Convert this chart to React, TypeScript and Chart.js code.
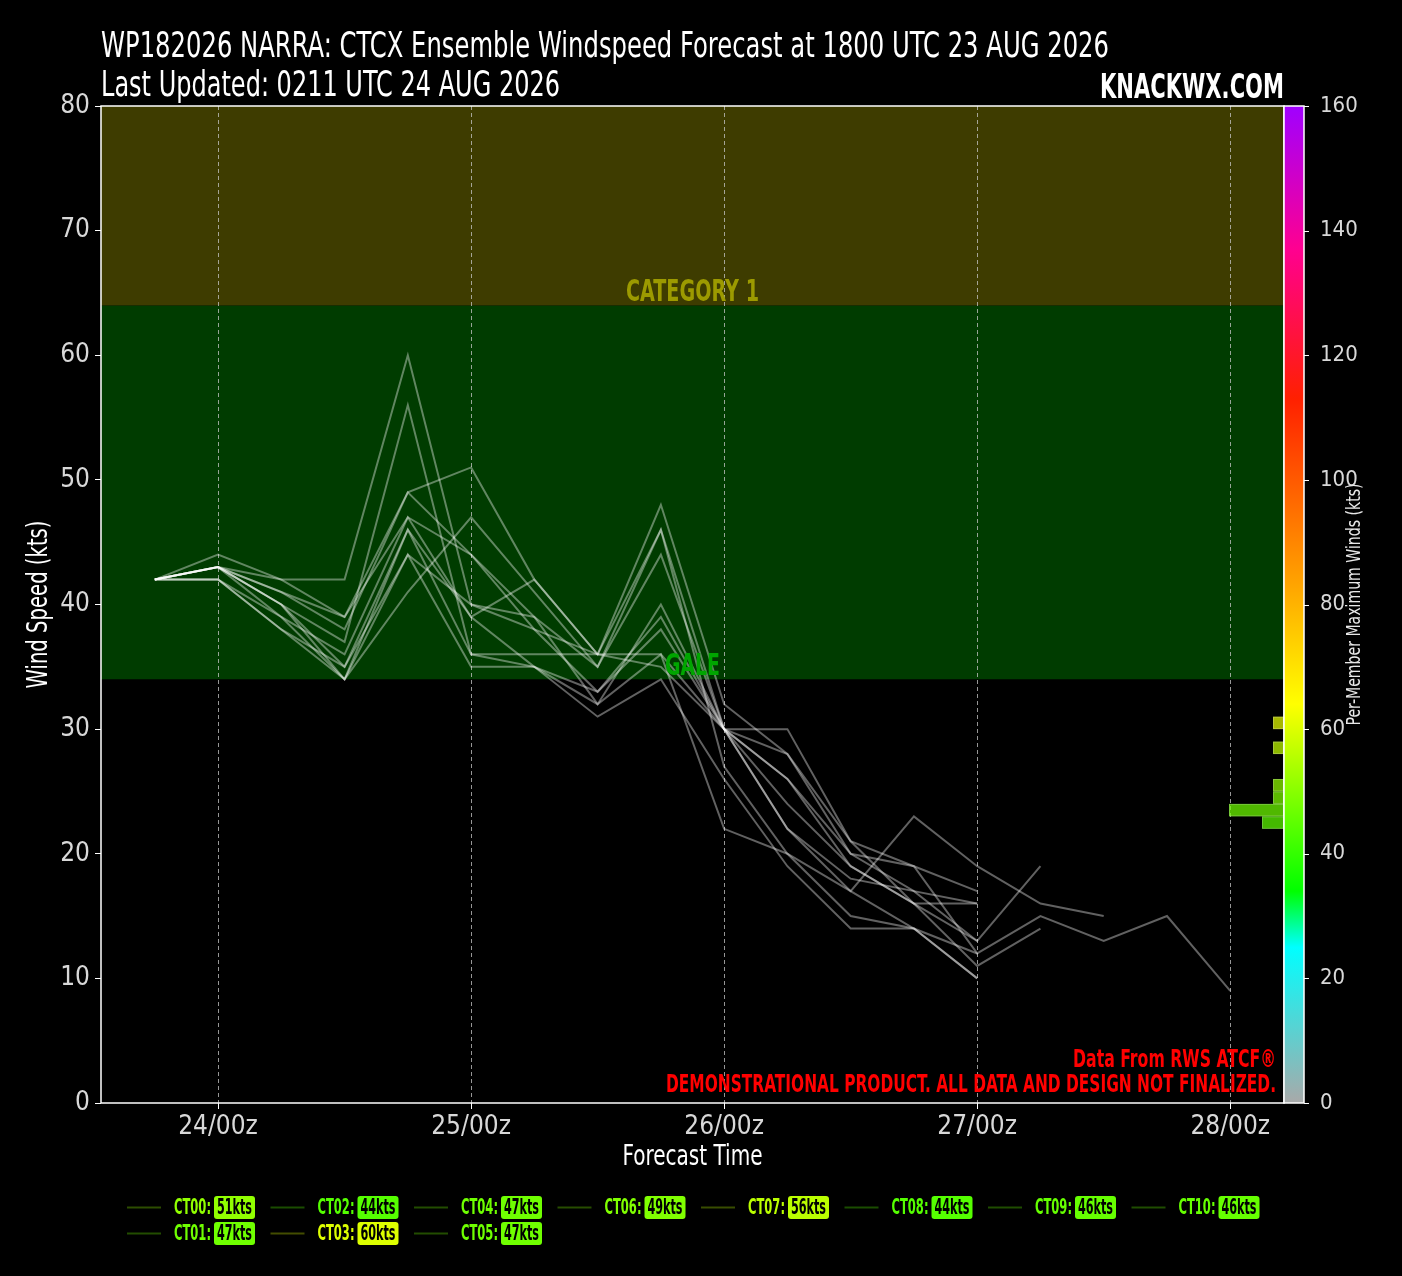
import React, { useEffect, useRef } from 'react';
import { Chart, registerables } from 'chart.js';

Chart.register(...registerables);

// ---------------- data ----------------
const TITLE_LINE_1 = 'WP182026 NARRA: CTCX Ensemble Windspeed Forecast at 1800 UTC 23 AUG 2026';
const TITLE_LINE_2 = 'Last Updated: 0211 UTC 24 AUG 2026';
const BRAND = 'KNACKWX.COM';
const SOURCE_NOTE = 'Data From RWS ATCF®';
const DISCLAIMER = 'DEMONSTRATIONAL PRODUCT. ALL DATA AND DESIGN NOT FINALIZED.';
const Y_TITLE = 'Wind Speed (kts)';
const X_TITLE = 'Forecast Time';
const CB_TITLE = 'Per-Member Maximum Winds (kts)';

// forecast hours relative to 24/00z
const FORECAST_HOURS = [-6, 0, 6, 12, 18, 24, 30, 36, 42, 48, 54, 60, 66, 72, 78, 84, 90, 96];
const X_TICK_HOURS = [0, 24, 48, 72, 96];
const X_TICK_LABELS = ['24/00z', '25/00z', '26/00z', '27/00z', '28/00z'];

const MEMBER_NAMES = ['CT00', 'CT01', 'CT02', 'CT03', 'CT04', 'CT05', 'CT06', 'CT07', 'CT08', 'CT09', 'CT10'];
const CT00 = [42, 43, 41, 38, 49, 51, 42, 36, 48, 32, 28, 21, 19, 17];
const CT01 = [42, 43, 40, 34, 41, 47, 41, 35, 44, 30, 26, 20, 17, 16];
const CT02 = [42, 42, 38, 35, 44, 40, 38, 33, 38, 30, 24, 19, 16, 16];
const CT03 = [42, 43, 42, 42, 60, 40, 39, 32, 40, 30, 22, 17, 14, 12];
const CT04 = [42, 43, 41, 39, 47, 44, 38, 36, 46, 27, 20, 15, 14, 10];
const CT05 = [42, 43, 39, 36, 47, 39, 35, 33, 39, 30, 22, 18, 17, 13, 19];
const CT06 = [42, 44, 42, 39, 49, 44, 39, 35, 46, 30, 26, 19, 16, 11, 14];
const CT07 = [42, 43, 40, 37, 56, 36, 35, 31, 34, 26, 19, 14, 14, 10];
const CT08 = [42, 42, 38, 34, 44, 35, 35, 32, 36, 22, 20, 17, 23, 19, 16, 15];
const CT09 = [42, 43, 40, 35, 46, 39, 42, 36, 36, 30, 28, 20, 19, 12, 15, 13, 15, 9];
const CT10 = [42, 42, 39, 34, 46, 36, 36, 36, 35, 30, 30, 21, 16, 13];
const MEMBER_VALUES = [CT00, CT01, CT02, CT03, CT04, CT05, CT06, CT07, CT08, CT09, CT10];

const BAND_LOWER = [34, 64];
const BAND_UPPER = [64, 80];
const BAND_LABELS = ['GALE', 'CATEGORY 1'];

const Y_MIN = 0;
const Y_MAX = 80;
const CB_MIN = 0;
const CB_MAX = 160;
const HIST_BIN_WIDTH = 2;

// colormap stops (kts)
const CMAP_VALUES = [0, 25, 34, 64, 83, 113, 137, 160];
const CMAP_COLORS = ['#a9a9a9', '#00ffff', '#00ff00', '#ffff00', '#ffa500', '#ff2000', '#ff0090', '#a000ff'];

// ---------------- styles ----------------
const W = 1402;
const H = 1276;
const FONT = '"Liberation Sans Narrow", "DejaVu Sans Condensed", "Roboto Condensed", sans-serif';
const BAND_FILLS = ['#003c00', '#3e3c00'];
const BAND_TEXT = ['#00a600', '#9c9a00'];

function hexToRgb(h: string): number[] {
  const n = parseInt(h.slice(1), 16);
  return [(n >> 16) & 255, (n >> 8) & 255, n & 255];
}
function cmap(v: number): number[] {
  if (v <= CMAP_VALUES[0]) return hexToRgb(CMAP_COLORS[0]);
  for (let i = 1; i < CMAP_VALUES.length; i++) {
    if (v <= CMAP_VALUES[i]) {
      const t = (v - CMAP_VALUES[i - 1]) / (CMAP_VALUES[i] - CMAP_VALUES[i - 1]);
      const a = hexToRgb(CMAP_COLORS[i - 1]);
      const b = hexToRgb(CMAP_COLORS[i]);
      return a.map((c, k) => Math.round(c + (b[k] - c) * t));
    }
  }
  return hexToRgb(CMAP_COLORS[CMAP_COLORS.length - 1]);
}
function rgba(c: number[], a: number) {
  return `rgba(${c[0]},${c[1]},${c[2]},${a})`;
}

function fitText(ctx: CanvasRenderingContext2D, text: string, x: number, y: number, targetW: number, align: CanvasTextAlign, rotate = false) {
  const w = ctx.measureText(text).width;
  const sx = targetW / w;
  ctx.save();
  ctx.translate(x, y);
  if (rotate) ctx.rotate(-Math.PI / 2);
  ctx.scale(sx, 1);
  ctx.textAlign = align;
  ctx.fillText(text, 0, 0);
  ctx.restore();
}

const MEMBER_MAX = MEMBER_VALUES.map((v) => Math.max(...v));

const decor = {
  id: 'decor',
  beforeDraw(chart: any) {
    const ctx: CanvasRenderingContext2D = chart.ctx;
    const { left, right, top, bottom } = chart.chartArea;
    const y = chart.scales.y;
    const x = chart.scales.x;
    ctx.save();
    ctx.fillStyle = '#000';
    ctx.fillRect(0, 0, chart.width, chart.height);
    BAND_LOWER.forEach((lo, i) => {
      const y1 = y.getPixelForValue(BAND_UPPER[i]);
      const y2 = y.getPixelForValue(lo);
      ctx.fillStyle = BAND_FILLS[i];
      ctx.fillRect(left, y1, right - left, y2 - y1);
    });
    ctx.strokeStyle = 'rgba(200,200,200,0.75)';
    ctx.lineWidth = 1;
    ctx.setLineDash([4, 3]);
    X_TICK_HOURS.forEach((h) => {
      const px = Math.round(x.getPixelForValue(h)) + 0.5;
      ctx.beginPath();
      ctx.moveTo(px, top);
      ctx.lineTo(px, bottom);
      ctx.stroke();
    });
    ctx.restore();
  },
  afterDatasetsDraw(chart: any) {
    const ctx: CanvasRenderingContext2D = chart.ctx;
    const { left, right } = chart.chartArea;
    const y = chart.scales.y;
    const cb = chart.scales.cb;
    const cx = (left + right) / 2;
    ctx.save();
    // band labels
    ctx.font = `bold 31px ${FONT}`;
    ctx.textBaseline = 'alphabetic';
    const labelW = [55, 133];
    BAND_LOWER.forEach((lo, i) => {
      ctx.fillStyle = BAND_TEXT[i];
      fitText(ctx, BAND_LABELS[i], cx, y.getPixelForValue(lo) - 4, labelW[i], 'center');
    });
    // histogram of per-member maximum winds, on the colorbar scale
    const bins = new Map<number, number>();
    MEMBER_MAX.forEach((m) => {
      const b = Math.floor(m / HIST_BIN_WIDTH) * HIST_BIN_WIDTH;
      bins.set(b, (bins.get(b) || 0) + 1);
    });
    const unit = 11;
    bins.forEach((count, b) => {
      const yTop = cb.getPixelForValue(b + HIST_BIN_WIDTH);
      const yBot = cb.getPixelForValue(b);
      const wBar = count * unit;
      ctx.fillStyle = rgba(cmap(b + HIST_BIN_WIDTH / 2), 0.72);
      ctx.fillRect(right - wBar, yTop, wBar, yBot - yTop);
      ctx.strokeStyle = 'rgba(255,255,255,0.22)';
      ctx.lineWidth = 1;
      ctx.strokeRect(right - wBar + 0.5, yTop + 0.5, wBar - 1, yBot - yTop - 1);
    });
    ctx.restore();
  },
  afterDraw(chart: any) {
    const ctx: CanvasRenderingContext2D = chart.ctx;
    const { left, right, top, bottom } = chart.chartArea;
    const cb = chart.scales.cb;
    ctx.save();
    // frame
    ctx.strokeStyle = '#ffffff';
    ctx.lineWidth = 1.5;
    ctx.strokeRect(left, top, right - left, bottom - top);

    // colorbar
    const cbL = right;
    const cbR = right + 20;
    const g = ctx.createLinearGradient(0, cb.getPixelForValue(CB_MIN), 0, cb.getPixelForValue(CB_MAX));
    CMAP_VALUES.forEach((v, i) => g.addColorStop((v - CB_MIN) / (CB_MAX - CB_MIN), CMAP_COLORS[i]));
    ctx.fillStyle = g;
    const cbTop = cb.getPixelForValue(CB_MAX);
    const cbBot = cb.getPixelForValue(CB_MIN);
    ctx.fillRect(cbL, cbTop, cbR - cbL, cbBot - cbTop);
    ctx.strokeStyle = '#ffffff';
    ctx.lineWidth = 1.5;
    ctx.strokeRect(cbL, cbTop, cbR - cbL, cbBot - cbTop);
    ctx.lineWidth = 1;
    cb.ticks.forEach((t: any) => {
      const py = Math.round(cb.getPixelForValue(t.value)) + 0.5;
      ctx.beginPath();
      ctx.moveTo(cbR, py);
      ctx.lineTo(cbR + 5, py);
      ctx.stroke();
    });

    // titles
    ctx.fillStyle = '#ffffff';
    ctx.textBaseline = 'alphabetic';
    ctx.font = `35px ${FONT}`;
    fitText(ctx, TITLE_LINE_1, left, 57, 1008, 'left');
    fitText(ctx, TITLE_LINE_2, left, 96, 459, 'left');
    ctx.font = `bold 34px ${FONT}`;
    fitText(ctx, BRAND, right, 98, 184, 'right');

    // axis titles
    ctx.textBaseline = 'middle';
    ctx.font = `28px ${FONT}`;
    fitText(ctx, Y_TITLE, 40, (top + bottom) / 2, 168, 'center', true);
    fitText(ctx, X_TITLE, (left + right) / 2, 1158, 140, 'center');
    ctx.font = `20px ${FONT}`;
    ctx.fillStyle = '#e8e8e8';
    fitText(ctx, CB_TITLE, 1355, (top + bottom) / 2, 242, 'center', true);

    // notes
    ctx.fillStyle = '#ff0000';
    ctx.font = `bold 25px ${FONT}`;
    ctx.textBaseline = 'alphabetic';
    fitText(ctx, SOURCE_NOTE, right - 8, 1067, 203, 'right');
    fitText(ctx, DISCLAIMER, right - 8, 1092, 610, 'right');

    // legend (matplotlib-style column fill, 8 columns)
    const ncol = 8;
    const n = MEMBER_NAMES.length;
    const rows = Math.ceil(n / ncol);
    const extra = n % ncol;
    let idx = 0;
    for (let c = 0; c < ncol && idx < n; c++) {
      const inCol = extra === 0 ? rows : c < extra ? rows : rows - 1;
      for (let r = 0; r < inCol && idx < n; r++, idx++) {
        const x0 = 127 + 143.5 * c;
        const yc = 1207.5 + 26 * r;
        const col = cmap(MEMBER_MAX[idx]);
        ctx.strokeStyle = rgba(col, 0.3);
        ctx.lineWidth = 2;
        ctx.beginPath();
        ctx.moveTo(x0, yc);
        ctx.lineTo(x0 + 34, yc);
        ctx.stroke();
        ctx.textBaseline = 'middle';
        ctx.font = `bold 22px ${FONT}`;
        ctx.fillStyle = rgba(col, 1);
        fitText(ctx, MEMBER_NAMES[idx] + ':', x0 + 47, yc + 1, 37, 'left');
        const bx = x0 + 87;
        const bw = 41;
        const bh = 23;
        ctx.beginPath();
        (ctx as any).roundRect(bx, yc - bh / 2, bw, bh, 3);
        ctx.fill();
        ctx.fillStyle = '#000';
        fitText(ctx, `${MEMBER_MAX[idx]}kts`, bx + bw / 2, yc + 1, 35, 'center');
      }
    }
    ctx.restore();
  },
};

export default function App() {
  const ref = useRef<HTMLCanvasElement>(null);
  useEffect(() => {
    const canvas = ref.current;
    if (!canvas) return;
    const tickFont = { family: FONT, size: 26, weight: 'normal' as const };
    const chart = new Chart(canvas, {
      type: 'line',
      data: {
        datasets: MEMBER_VALUES.map((vals, i) => ({
          label: MEMBER_NAMES[i],
          data: vals.map((v, j) => ({ x: FORECAST_HOURS[j], y: v })),
          borderColor: 'rgba(255,255,255,0.38)',
          borderWidth: 2,
          pointRadius: 0,
          tension: 0,
          fill: false,
        })),
      },
      options: {
        responsive: false,
        animation: false,
        devicePixelRatio: 1,
        layout: { padding: { left: 0, top: 106, right: 0, bottom: 0 } },
        plugins: { legend: { display: false }, tooltip: { enabled: false }, title: { display: false } },
        scales: {
          x: {
            type: 'linear',
            min: FORECAST_HOURS[0] - 0.05 * (FORECAST_HOURS[FORECAST_HOURS.length - 1] - FORECAST_HOURS[0]),
            max: FORECAST_HOURS[FORECAST_HOURS.length - 1] + 0.05 * (FORECAST_HOURS[FORECAST_HOURS.length - 1] - FORECAST_HOURS[0]),
            afterBuildTicks: (s: any) => {
              s.ticks = X_TICK_HOURS.map((v) => ({ value: v }));
            },
            ticks: {
              color: '#d8d8d8',
              font: tickFont,
              padding: 3,
              maxRotation: 0,
              autoSkip: false,
              callback: (v: any) => X_TICK_LABELS[X_TICK_HOURS.indexOf(Number(v))],
            },
            grid: { display: true, drawOnChartArea: false, drawTicks: true, tickLength: 6, color: '#ffffff' },
            border: { display: false },
            afterFit: (s: any) => {
              s.height = 173;
            },
          },
          y: {
            min: Y_MIN,
            max: Y_MAX,
            ticks: { stepSize: 10, color: '#d8d8d8', font: tickFont, padding: 5 },
            grid: { display: true, drawOnChartArea: false, drawTicks: true, tickLength: 6, color: '#ffffff' },
            border: { display: false },
            afterFit: (s: any) => {
              s.width = 101;
            },
          },
          cb: {
            position: 'right',
            min: CB_MIN,
            max: CB_MAX,
            ticks: { stepSize: 20, color: '#d8d8d8', font: { family: FONT, size: 22 }, padding: 28 },
            grid: { display: false },
            border: { display: false },
            afterFit: (s: any) => {
              s.width = 118;
            },
          },
        },
      } as any,
      plugins: [decor],
    });
    return () => chart.destroy();
  }, []);
  return (
    <div style={{ position: 'absolute', left: 0, top: 0, width: W, height: H, background: '#000' }}>
      <canvas ref={ref} width={W} height={H} style={{ display: 'block', width: W, height: H }} />
    </div>
  );
}
